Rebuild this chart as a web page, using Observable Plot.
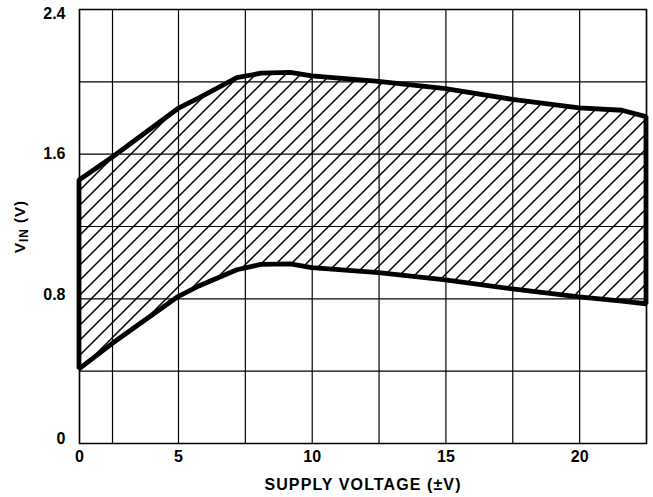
<!DOCTYPE html>
<html><head><meta charset="utf-8">
<script src="https://cdn.jsdelivr.net/npm/d3@7"></script>
<script src="https://cdn.jsdelivr.net/npm/@observablehq/plot@0.6"></script>
<style>body{margin:0;background:#fff}</style>
</head><body><div id="chart"></div>
<script>
const supplyV = [0, 2.5, 5, 5.8, 7.2, 8.1, 9.2, 10, 12.5, 15, 17.5, 20, 21.6, 22.5];
const vinMax  = [1.454, 1.58, 1.85, 1.91, 2.02, 2.045, 2.05, 2.03, 2.0, 1.96, 1.9, 1.853, 1.84, 1.805];
const vinMin  = [0.41, 0.55, 0.81, 0.87, 0.958, 0.988, 0.99, 0.97, 0.942, 0.902, 0.852, 0.808, 0.785, 0.77];
const xGrid = [0, 2.5, 5, 7.5, 10, 12.5, 15, 17.5, 20, 22.5];
const xTicks = [0, 5, 10, 15, 20];
const yGrid = [0, 0.4, 0.8, 1.2, 1.6, 2.0, 2.4];
const xLabel = "SUPPLY VOLTAGE (±V)";

const rows = supplyV.map((v, i) => ({v, lo: vinMin[i], hi: vinMax[i]}));
const fmt = d => String(d);
const yAx = (vals, dy) => Plot.axisY(vals, {tickSize: 0, tickPadding: 14, fontSize: 16, fontWeight: "bold", label: null, dy, tickFormat: fmt});

const svg = Plot.plot({
  width: 653, height: 497,
  marginLeft: 79, marginRight: 7, marginTop: 9, marginBottom: 54,
  style: {fontFamily: "'Liberation Sans', Arial, sans-serif", fontWeight: "bold", fontSize: "16px", color: "black", background: "white"},
  x: {type: "linear", domain: [0, 2.5, 5, 22.5], range: [79, 112, 178, 646], label: null, axis: null},
  y: {domain: [0, 2.4], label: null, axis: null},
  marks: [
    Plot.gridX(xGrid, {stroke: "black", strokeOpacity: 1, strokeWidth: 1.2}),
    Plot.gridY(yGrid, {stroke: "black", strokeOpacity: 1, strokeWidth: 1.2}),
    Plot.frame({stroke: "black", strokeWidth: 1.5}),
    Plot.areaY(rows, {x: "v", y1: "lo", y2: "hi", fill: "url(#hatch)", stroke: "black", strokeWidth: 4.8, strokeLinejoin: "miter"}),
    Plot.axisX(xTicks, {tickSize: 0, tickPadding: 7, fontSize: 16, fontWeight: "bold", label: null, tickFormat: fmt}),
    yAx([1.6], 0),
    yAx([0.8], -4),
    yAx([2.4], 4),
    yAx([0], -5),
    Plot.text([xLabel], {frameAnchor: "bottom", lineAnchor: "bottom", dy: 46, fontSize: 16, fontWeight: "bold"})
  ]
});

const s = d3.select(svg);
s.selectAll("text").filter(function() { return this.textContent === xLabel; })
  .style("letter-spacing", "1.1px");
const defs = s.insert("defs", ":first-child");
const pat = defs.append("pattern").attr("id", "hatch").attr("patternUnits", "userSpaceOnUse")
  .attr("width", 15).attr("height", 15);
pat.append("path").attr("d", "M0,15L15,0M-3,3L3,-3M12,18L18,12")
  .attr("stroke", "black").attr("stroke-width", 1.5).attr("fill", "none");

const yl = s.append("text")
  .attr("transform", "translate(25,226.5) rotate(-90)")
  .attr("text-anchor", "middle")
  .attr("font-size", 15).attr("font-weight", "bold")
  .attr("letter-spacing", "1px")
  .attr("fill", "black");
yl.append("tspan").text("V");
yl.append("tspan").attr("font-size", 12).attr("dy", 3).text("IN");
yl.append("tspan").attr("dy", -3).text(" (V)");

document.getElementById("chart").appendChild(svg);
</script>
</body></html>
